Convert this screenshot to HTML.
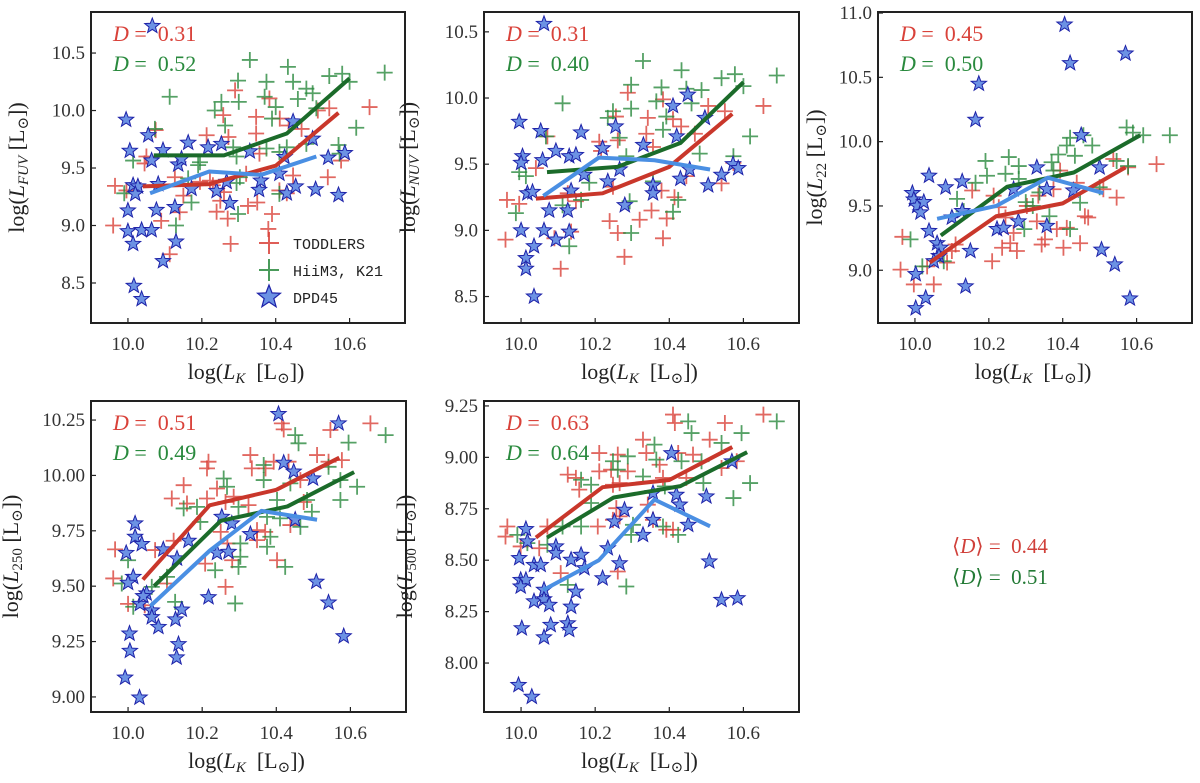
<!DOCTYPE html>
<html><head><meta charset="utf-8">
<style>
html,body{margin:0;padding:0;background:#fff;}
svg{display:block;font-family:"Liberation Serif","DejaVu Serif",serif;}
</style></head>
<body>
<svg id="fig" width="1200" height="783" viewBox="0 0 1200 783" xmlns="http://www.w3.org/2000/svg">
<text x="952" y="553" font-size="21" fill="#d0403a"><tspan>⟨</tspan><tspan font-style="italic">D</tspan><tspan>⟩ =&#160;&#160;0.44</tspan></text>
<text x="952" y="584" font-size="21" fill="#237a35"><tspan>⟨</tspan><tspan font-style="italic">D</tspan><tspan>⟩ =&#160;&#160;0.51</tspan></text>
</svg>
<script>
// ---------- Panel 1: FUV ----------
const p1StarX=[10.066,9.995,10.005,10.055,10.064,10.095,10.163,10.136,10.145,10.172,10.217,10.253,10.24,10.276,10.267,10.33,10.355,10.36,10.41,10.424,10.447,10.43,10.454,10.5,10.508,10.542,10.57,10.587,10.014,10.027,10.02,10.0,10.0,10.037,10.064,10.014,10.077,10.127,10.13,10.095,10.016,10.037,10.082];
const p1StarY=[10.735,9.92,9.65,9.785,9.565,9.655,9.72,9.53,9.58,9.32,9.68,9.71,9.30,9.195,9.38,9.645,9.31,9.39,9.45,9.595,9.905,9.28,9.34,9.755,9.315,9.59,9.265,9.63,9.35,9.34,9.275,9.13,8.95,8.96,8.96,8.84,9.135,9.16,8.86,8.69,8.475,8.36,9.36];
const p1RedX=[9.96,9.965,9.996,10.05,10.045,10.075,10.09,10.113,10.14,10.15,10.127,10.213,10.23,10.25,10.26,10.27,10.24,10.278,10.29,10.258,10.272,10.32,10.325,10.347,10.347,10.35,10.356,10.383,10.38,10.39,10.411,10.41,10.435,10.447,10.47,10.514,10.541,10.545,10.577,10.654,10.43,10.195,10.222];
const p1RedY=[9.0,9.345,9.305,9.6,9.54,9.83,9.04,8.75,9.115,9.26,9.42,9.785,9.35,9.215,9.29,9.06,9.12,8.84,10.175,9.96,9.77,9.45,9.17,9.945,9.80,9.2,9.625,10.105,8.97,9.1,9.93,9.305,9.87,9.435,9.84,10.0,9.42,10.02,9.565,10.03,9.28,9.38,9.39];
const p1GreenX=[10.33,10.433,10.298,10.375,10.447,10.483,10.5,10.545,10.58,10.6,10.695,10.3,10.253,10.235,10.37,10.4,10.39,10.46,10.263,10.618,10.113,10.073,10.014,9.99,10.19,10.195,10.285,10.294,10.375,10.303,10.294,10.41,10.43,10.483,10.57,10.41,10.298,10.13,10.163,10.172,10.51,10.573];
const p1GreenY=[10.44,10.38,10.26,10.25,10.25,10.19,10.15,10.3,10.32,10.25,10.33,10.075,10.075,10.0,10.12,10.03,9.93,10.1,9.87,9.85,10.12,9.84,9.565,9.28,9.525,9.55,9.68,9.6,9.67,9.42,9.37,9.64,9.68,9.71,9.7,9.275,9.10,9.0,9.41,9.2,10.02,9.625];
const p1LineX=[10.04,10.22,10.4,10.57];
const p1LineRedY=[9.34,9.36,9.52,9.98];
const p1LineGX=[10.07,10.26,10.43,10.6];
const p1LineGreenY=[9.61,9.61,9.80,10.28];
const p1LineBX=[10.06,10.22,10.36,10.51];
const p1LineBlueY=[9.28,9.47,9.44,9.60];
const p1Ticks=[8.5,9.0,9.5,10.0,10.5];
const p1TickLabels=["8.5","9.0","9.5","10.0","10.5"];
const p1D=["0.31","0.52"];

// ---------- Panel 2: NUV ----------
const p2StarX=[10.062,9.995,10.053,10.162,10.094,10.058,10.004,10.0,10.017,10.031,10.13,10.148,10.17,10.22,10.255,10.234,10.28,10.33,10.356,10.356,10.41,10.42,10.45,10.43,10.455,10.496,10.505,10.541,10.572,10.586,10.135,10.076,10.126,10.0,10.062,10.094,10.13,10.035,10.013,10.013,10.035,10.266];
const p2StarY=[10.56,9.82,9.75,9.74,9.6,9.53,9.56,9.51,9.28,9.29,9.56,9.57,9.42,9.62,9.785,9.37,9.19,9.645,9.34,9.28,9.94,9.71,10.025,9.39,9.46,9.85,9.34,9.42,9.5,9.47,9.3,9.15,9.15,9.0,9.0,8.93,8.99,8.88,8.79,8.71,8.5,9.46];
const p2RedX=[9.958,9.962,9.995,10.04,10.071,10.09,10.107,10.135,10.126,10.148,10.211,10.216,10.256,10.261,10.288,10.248,10.239,10.261,10.279,10.32,10.342,10.338,10.352,10.356,10.379,10.383,10.393,10.41,10.414,10.432,10.446,10.469,10.505,10.55,10.541,10.573,10.654,10.383];
const p2RedY=[8.93,9.23,9.2,9.47,9.71,8.94,8.71,8.99,9.28,9.22,9.67,9.6,9.86,9.68,10.04,9.33,9.07,8.98,8.8,9.08,9.85,9.73,9.15,9.63,9.3,8.94,9.09,9.84,9.25,9.785,9.41,9.73,9.94,9.9,9.355,9.51,9.94,9.99];
const p2GreenX=[10.329,10.433,10.297,10.379,10.446,10.487,10.541,10.577,10.6,10.69,10.112,10.297,10.248,10.365,10.392,10.46,10.234,10.383,10.266,10.067,10.618,10.482,10.573,9.995,10.013,10.184,10.162,10.112,9.986,10.293,10.356,10.41,10.424,10.297,10.13,10.284];
const p2GreenY=[10.28,10.21,10.1,10.08,10.07,10.06,10.15,10.18,10.09,10.17,9.96,9.92,9.9,9.975,9.86,9.96,9.85,9.76,9.7,9.71,9.71,9.58,9.56,9.44,9.41,9.36,9.23,9.19,9.13,9.22,9.37,9.14,9.23,8.98,8.88,9.56];
const p2LineRedY=[9.24,9.28,9.48,9.88];
const p2LineGreenY=[9.44,9.48,9.66,10.12];
const p2LineBX=[10.06,10.21,10.36,10.51];
const p2LineBlueY=[9.26,9.55,9.53,9.46];
const p2Ticks=[8.5,9.0,9.5,10.0,10.5];
const p2TickLabels=["8.5","9.0","9.5","10.0","10.5"];
const p2D=["0.31","0.40"];

// ---------- Panel 3: 22 micron ----------
const p3StarX=[10.405,10.57,10.42,10.173,10.164,10.45,10.5,10.33,10.038,10.083,10.128,9.993,9.997,10.006,10.015,10.024,10.038,10.06,10.069,10.065,10.051,10.1,10.128,10.15,10.137,10.002,10.029,10.002,10.222,10.24,10.267,10.28,10.357,10.357,10.429,10.505,10.541,10.582];
const p3StarY=[10.91,10.685,10.61,10.45,10.17,10.05,9.8,9.8,9.735,9.645,9.69,9.6,9.55,9.5,9.45,9.53,9.305,9.21,9.175,9.11,9.07,9.41,9.46,9.15,8.875,8.97,8.785,8.705,9.32,9.33,9.63,9.38,9.345,9.63,9.62,9.16,9.045,8.78];
const p3RedX=[9.961,9.966,9.997,10.051,10.033,10.087,10.1,10.11,10.155,10.209,10.213,10.227,10.236,10.258,10.276,10.245,10.267,10.33,10.334,10.343,10.352,10.375,10.384,10.402,10.411,10.447,10.438,10.46,10.469,10.51,10.546,10.537,10.577,10.654,10.393,10.303];
const p3RedY=[9.005,9.26,8.89,8.89,9.03,9.06,9.15,9.2,9.62,9.07,9.58,9.49,9.175,9.21,9.15,9.41,9.29,9.38,9.58,9.2,9.24,9.63,9.32,9.175,9.33,9.21,9.68,9.42,9.41,9.63,9.565,9.865,9.8,9.825,9.775,9.5];
const p3GreenX=[9.988,10.02,10.078,10.114,10.132,10.164,10.191,10.195,10.245,10.254,10.281,10.281,10.3,10.296,10.319,10.337,10.364,10.37,10.388,10.411,10.42,10.433,10.456,10.48,10.447,10.42,10.546,10.573,10.59,10.618,10.69,10.577,10.5,10.375];
const p3GreenY=[9.24,9.03,9.07,9.555,9.46,9.68,9.85,9.735,9.75,9.88,9.81,9.71,9.53,9.32,9.5,9.605,9.42,9.84,9.9,9.97,10.03,9.89,10.05,9.97,9.525,9.32,9.85,10.11,10.07,10.05,10.05,9.81,9.645,9.775];
const p3LineRedY=[9.06,9.42,9.52,9.8];
const p3LineGX=[10.07,10.25,10.43,10.61];
const p3LineGreenY=[9.27,9.65,9.76,10.05];
const p3LineBlueY=[9.40,9.5,9.72,9.6];
const p3Ticks=[9.0,9.5,10.0,10.5,11.0];
const p3TickLabels=["9.0","9.5","10.0","10.5","11.0"];
const p3D=["0.45","0.50"];

// ---------- Panel 4: 250 micron ----------
const p4StarX=[10.406,10.568,10.42,10.447,10.499,10.451,10.28,10.253,10.33,10.163,10.24,10.271,10.095,10.132,10.019,10.019,10.037,9.995,10.014,10.0,10.05,10.032,10.064,10.064,10.082,10.145,10.128,10.217,10.004,10.005,10.136,10.131,9.992,10.031,10.508,10.541,10.582,10.041];
const p4StarY=[10.277,10.235,10.057,10.017,9.986,9.80,9.783,9.813,9.735,9.705,9.65,9.655,9.666,9.625,9.783,9.723,9.69,9.65,9.542,9.515,9.467,9.42,9.39,9.36,9.316,9.394,9.35,9.45,9.286,9.208,9.238,9.178,9.087,8.997,9.52,9.426,9.274,9.455];
const p4RedX=[9.965,9.96,10.0,10.045,10.073,10.118,10.123,10.105,10.15,10.159,10.213,10.208,10.217,10.213,10.24,10.263,10.25,10.268,10.263,10.281,10.285,10.33,10.334,10.371,10.325,10.348,10.348,10.37,10.393,10.402,10.415,10.42,10.433,10.438,10.465,10.474,10.51,10.546,10.577,10.654,10.541];
const p4RedY=[9.666,9.535,9.42,9.414,9.663,9.896,9.705,9.512,9.956,9.873,9.896,9.602,10.062,10.032,9.941,9.88,9.745,9.693,9.497,9.617,9.904,10.092,10.032,10.032,9.866,9.753,9.708,9.745,10.062,9.617,10.235,10.208,10.062,9.776,9.979,9.88,10.092,10.205,10.069,10.235,10.062];
const p4GreenX=[9.983,10.0,10.014,10.064,10.105,10.127,10.15,10.186,10.195,10.235,10.258,10.267,10.289,10.298,10.298,10.303,10.303,10.366,10.366,10.375,10.375,10.384,10.41,10.402,10.424,10.438,10.451,10.46,10.465,10.483,10.496,10.541,10.573,10.573,10.595,10.618,10.695];
const p4GreenY=[9.512,9.617,9.407,9.497,9.542,9.429,9.851,9.858,9.79,9.572,9.986,9.949,9.422,9.858,9.587,9.633,9.693,10.047,9.979,9.813,9.678,9.723,9.806,9.889,9.587,9.964,10.182,10.145,9.768,9.889,9.836,10.039,9.979,9.889,10.148,9.949,10.182];
const p4LineRedY=[9.53,9.865,9.935,10.08];
const p4LineGX=[10.07,10.25,10.43,10.61];
const p4LineGreenY=[9.5,9.795,9.86,10.015];
const p4LineBlueY=[9.41,9.66,9.84,9.8];
const p4Ticks=[9.0,9.25,9.5,9.75,10.0,10.25];
const p4TickLabels=["9.00","9.25","9.50","9.75","10.00","10.25"];
const p4D=["0.51","0.49"];

// ---------- Panel 5: 500 micron ----------
const p5StarX=[10.406,10.569,10.356,10.419,10.428,10.451,10.5,10.279,10.252,10.356,10.329,10.234,10.266,10.162,10.135,10.094,10.094,10.013,10.017,9.995,10.035,10.053,10.171,10.22,9.999,10.013,9.999,10.062,10.035,10.062,10.076,10.148,10.135,10.126,10.13,10.08,10.062,10.002,9.993,10.029,10.508,10.541,10.584];
const p5StarY=[9.02,8.98,8.826,8.818,8.77,8.672,8.81,8.745,8.688,8.696,8.623,8.558,8.485,8.526,8.502,8.567,8.534,8.651,8.591,8.51,8.477,8.477,8.461,8.412,8.404,8.404,8.372,8.356,8.3,8.31,8.283,8.347,8.274,8.193,8.161,8.185,8.125,8.169,7.893,7.836,8.494,8.307,8.315];
const p5RedX=[9.963,9.958,9.999,10.049,10.071,10.107,10.126,10.148,10.157,10.211,10.211,10.207,10.243,10.248,10.261,10.266,10.288,10.257,10.266,10.248,10.261,10.329,10.338,10.342,10.374,10.383,10.41,10.415,10.424,10.41,10.446,10.464,10.509,10.55,10.541,10.582,10.654,10.356,10.392];
const p5RedY=[8.664,8.615,8.567,8.558,8.664,8.437,8.916,8.9,8.843,9.021,8.932,8.664,8.94,8.867,9.013,8.875,8.932,8.753,8.713,8.696,8.445,9.086,9.021,8.77,8.964,8.9,9.208,9.167,9.021,8.648,8.9,9.013,9.086,9.167,8.948,8.981,9.208,8.696,8.648];
const p5GreenX=[9.99,10.017,10.071,10.112,10.126,10.162,10.162,10.189,10.248,10.261,10.284,10.288,10.297,10.302,10.329,10.36,10.365,10.383,10.388,10.424,10.433,10.451,10.46,10.487,10.492,10.541,10.573,10.595,10.618,10.69,10.189];
const p5GreenY=[8.623,8.583,8.575,8.664,8.38,8.664,8.891,8.778,8.981,8.94,8.372,9.005,8.623,8.672,8.907,9.062,8.989,8.664,8.859,8.623,8.981,9.175,9.118,8.981,8.875,9.07,8.802,9.118,8.875,9.175,8.867];
const p5LineRedY=[8.61,8.855,8.89,9.05];
const p5LineGX=[10.07,10.25,10.43,10.61];
const p5LineGreenY=[8.61,8.805,8.86,9.025];
const p5LineBX=[10.06,10.21,10.36,10.51];
const p5LineBlueY=[8.355,8.5,8.795,8.665];
const p5Ticks=[8.0,8.25,8.5,8.75,9.0,9.25];
const p5TickLabels=["8.00","8.25","8.50","8.75","9.00","9.25"];
const p5D=["0.63","0.64"];

const xTicks=[10.0,10.2,10.4,10.6];
const xTickLabels=["10.0","10.2","10.4","10.6"];
const xDomain=[9.9,10.75];

const NS="http://www.w3.org/2000/svg";
const svg=document.getElementById('fig');
const RED="#d9423a", GREEN="#2a8a3e", LRED="#c9372b", LGREEN="#1b6b2a", LBLUE="#4a8fe3";
const SERIF='"Liberation Serif","DejaVu Serif",serif';

function mk(tag,attrs,parent){const e=document.createElementNS(NS,tag);for(const k in attrs)e.setAttribute(k,attrs[k]);(parent||svg).appendChild(e);return e;}
function starPts(cx,cy,R){const r=R*0.42;let s=[];for(let i=0;i<10;i++){const a=-Math.PI/2+i*Math.PI/5;const rr=i%2?r:R;s.push((cx+rr*Math.cos(a)).toFixed(1)+","+(cy+rr*Math.sin(a)).toFixed(1));}return s.join(" ");}

const panels=[
 {key:'fuv',L:91,T:12,W:314,H:311,yd:[8.152,10.857],sx:p1StarX,sy:p1StarY,rx:p1RedX,ry:p1RedY,gx:p1GreenX,gy:p1GreenY,lrx:p1LineX,lry:p1LineRedY,lgx:p1LineGX,lgy:p1LineGreenY,lbx:p1LineBX,lby:p1LineBlueY,ticks:p1Ticks,tl:p1TickLabels,d:p1D,sub:"FUV",subItalic:true,ylx:22,legend:true},
 {key:'nuv',L:484,T:12,W:315,H:311,yd:[8.30,10.65],sx:p2StarX,sy:p2StarY,rx:p2RedX,ry:p2RedY,gx:p2GreenX,gy:p2GreenY,lrx:p1LineX,lry:p2LineRedY,lgx:p1LineGX,lgy:p2LineGreenY,lbx:p2LineBX,lby:p2LineBlueY,ticks:p2Ticks,tl:p2TickLabels,d:p2D,sub:"NUV",subItalic:true,ylx:413},
 {key:'w22',L:878,T:12,W:314,H:311,yd:[8.59,11.008],sx:p3StarX,sy:p3StarY,rx:p3RedX,ry:p3RedY,gx:p3GreenX,gy:p3GreenY,lrx:p1LineX,lry:p3LineRedY,lgx:p3LineGX,lgy:p3LineGreenY,lbx:p1LineBX,lby:p3LineBlueY,ticks:p3Ticks,tl:p3TickLabels,d:p3D,sub:"22",subItalic:false,ylx:820},
 {key:'s250',L:91,T:401,W:315,H:311,yd:[8.932,10.336],sx:p4StarX,sy:p4StarY,rx:p4RedX,ry:p4RedY,gx:p4GreenX,gy:p4GreenY,lrx:p1LineX,lry:p4LineRedY,lgx:p4LineGX,lgy:p4LineGreenY,lbx:p1LineBX,lby:p4LineBlueY,ticks:p4Ticks,tl:p4TickLabels,d:p4D,sub:"250",subItalic:false,ylx:16},
 {key:'s500',L:484,T:401,W:315,H:311,yd:[7.762,9.274],sx:p5StarX,sy:p5StarY,rx:p5RedX,ry:p5RedY,gx:p5GreenX,gy:p5GreenY,lrx:p1LineX,lry:p5LineRedY,lgx:p5LineGX,lgy:p5LineGreenY,lbx:p5LineBX,lby:p5LineBlueY,ticks:p5Ticks,tl:p5TickLabels,d:p5D,sub:"500",subItalic:false,ylx:410}
];

panels.forEach(p=>{
 const xs=v=>p.L+(v-xDomain[0])/(xDomain[1]-xDomain[0])*p.W;
 const ys=v=>p.T+p.H-(v-p.yd[0])/(p.yd[1]-p.yd[0])*p.H;
 const g=mk('g',{'font-family':SERIF});
 
 
 const clipId='clip-'+p.key;
 const cp=mk('clipPath',{id:clipId},g);mk('rect',{x:p.L,y:p.T,width:p.W,height:p.H},cp);
 const plot=mk('g',{'clip-path':'url(#'+clipId+')'},g);
 p.rx.forEach((v,i)=>{const cx=xs(v),cy=ys(p.ry[i]);const e=mk('path',{d:`M${cx-8} ${cy}H${cx+8}M${cx} ${cy-8}V${cy+8}`,stroke:RED,'stroke-width':1.8,'stroke-opacity':0.8,fill:'none'},plot);
  
  });
 p.gx.forEach((v,i)=>{const cx=xs(v),cy=ys(p.gy[i]);const e=mk('path',{d:`M${cx-8} ${cy}H${cx+8}M${cx} ${cy-8}V${cy+8}`,stroke:GREEN,'stroke-width':1.8,'stroke-opacity':0.8,fill:'none'},plot);
  
  });
 p.sx.forEach((v,i)=>{const e=mk('polygon',{points:starPts(xs(v),ys(p.sy[i]),8),fill:'#6c92e4',stroke:'#1e22a8','stroke-width':1},plot);
  
  });
 const line=(X,Y,c,n)=>{const e=mk('polyline',{points:X.map((v,i)=>xs(v)+','+ys(Y[i])).join(' '),stroke:c,'stroke-width':4,fill:'none','stroke-linejoin':'round'},plot);
  
  };
 line(p.lrx,p.lry,LRED,'toddlers-median-line');
 line(p.lgx,p.lgy,LGREEN,'hiim3-median-line');
 line(p.lbx,p.lby,LBLUE,'dpd45-median-line');
 const fr=mk('rect',{x:p.L,y:p.T,width:p.W,height:p.H,fill:'none',stroke:'#222','stroke-width':2},g);
 
 
 xTicks.forEach((v,i)=>{const x=xs(v);mk('line',{x1:x,x2:x,y1:p.T+p.H,y2:p.T+p.H-5,stroke:'#222','stroke-width':1.2},g);
  const t=mk('text',{x:x,y:p.T+p.H+27,'font-size':19,'text-anchor':'middle',fill:'#333','font-family':SERIF},g);t.textContent=xTickLabels[i];
  
  });
 p.ticks.forEach((v,i)=>{const y=ys(v);mk('line',{x1:p.L,x2:p.L+5,y1:y,y2:y,stroke:'#222','stroke-width':1.2},g);
  const t=mk('text',{x:p.L-6,y:y+6,'font-size':19,'text-anchor':'end',fill:'#333','font-family':SERIF},g);t.textContent=p.tl[i];
  
  });
 const xl=mk('text',{x:p.L+p.W/2-2,y:p.T+p.H+56,'font-size':22,'text-anchor':'middle',fill:'#222','font-family':SERIF},g);
 xl.innerHTML='log(<tspan font-style="italic">L</tspan><tspan font-style="italic" font-size="15" dy="4">K</tspan><tspan dy="-4">&#160;&#160;[L</tspan><tspan font-size="15" dy="4">⊙</tspan><tspan dy="-4">])</tspan>';
 
 
 const cy=p.T+p.H/2;
 const yl=mk('text',{x:0,y:0,'font-size':22,'text-anchor':'middle',fill:'#222','font-family':SERIF,transform:`translate(${p.ylx+2},${cy}) rotate(-90)`},g);
 yl.innerHTML='log(<tspan font-style="italic">L</tspan><tspan font-size="15" dy="4"'+(p.subItalic?' font-style="italic"':'')+'>'+p.sub+'</tspan><tspan dy="-4">&#160;[L</tspan><tspan font-size="15" dy="4">⊙</tspan><tspan dy="-4">])</tspan>';
 
 
 const d1=mk('text',{x:p.L+22,y:p.T+29,'font-size':22,fill:RED,'font-family':SERIF},g);
 d1.innerHTML='<tspan font-style="italic">D</tspan> =&#160;&#160;'+p.d[0];
 
 
 const d2=mk('text',{x:p.L+22,y:p.T+59,'font-size':22,fill:GREEN,'font-family':SERIF},g);
 d2.innerHTML='<tspan font-style="italic">D</tspan> =&#160;&#160;'+p.d[1];
 
 
 if(p.legend){
  const lg=mk('g',{},g);
  
  
  const items=[['TODDLERS','cross',RED],['HiiM3, K21','cross',GREEN],['DPD45','star','']];
  items.forEach((it,i)=>{const y=p.T+231+i*27;const x=269;
   const ent=mk('g',{},lg);
   
   
   if(it[1]==='cross')mk('path',{d:`M${x-10} ${y}H${x+10}M${x} ${y-11}V${y+11}`,stroke:it[2],'stroke-width':2,'stroke-opacity':0.85},ent);
   else mk('polygon',{points:starPts(x,y,12),fill:'#6c92e4',stroke:'#1e22a8','stroke-width':1.2},ent);
   const t=mk('text',{x:x+24,y:y+6,'font-size':15,fill:'#222','font-family':'"Liberation Mono","DejaVu Sans Mono",monospace'},ent);t.textContent=it[0];});
 }
});
</script>
</body></html>
